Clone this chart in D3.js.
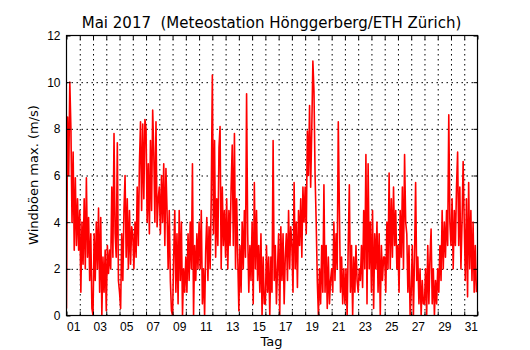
<!DOCTYPE html>
<html>
<head>
<meta charset="utf-8">
<script src="https://cdn.jsdelivr.net/npm/d3@7"></script>
<style>
  body { margin: 0; background: #fff; }
  svg { font-family: "DejaVu Sans", sans-serif; }
  .grid line { stroke: #000; stroke-dasharray: 1.5,3.5; stroke-width: 1; }
  .grid path { display: none; }
  .ticks path { display: none; }
  .ticks line { stroke: #000; }
  .ticks text { font-size: 12px; fill: #000; }
</style>
</head>
<body>
<div id="chart"></div>
<script>
// DATA: max gusts (m/s), 12 samples per day at 00,02,...,22 h
const sampleHours = [0, 2, 4, 6, 8, 10, 12, 14, 16, 18, 20, 22];
const gusts = [
  [0.3, 8.5, 6.0, 10.0, 8.0, 4.0, 7.0, 2.8, 5.9, 3.0, 5.0, 2.8],   // 01
  [4.5, 1.0, 4.0, 2.2, 5.0, 2.0, 5.9, 2.5, 4.2, 1.5, 3.5, 0.3],    // 02
  [0.0, 3.5, 1.5, 4.0, 2.0, 4.6, 1.0, 4.2, 0.0, 2.5, 1.0, 2.8],    // 03
  [0.2, 3.0, 1.8, 2.8, 2.0, 5.5, 2.5, 7.8, 3.5, 2.5, 7.4, 1.5],    // 04
  [1.0, 0.3, 3.5, 1.5, 4.5, 6.0, 2.5, 5.0, 2.0, 4.5, 2.2, 3.8],    // 05
  [3.5, 2.0, 4.0, 2.5, 5.5, 3.0, 6.5, 8.3, 4.5, 8.2, 5.0, 8.4],    // 06
  [8.0, 4.0, 6.5, 3.5, 7.5, 4.5, 8.8, 7.0, 4.0, 8.3, 3.8, 5.0],    // 07
  [5.5, 3.5, 6.0, 4.0, 6.5, 3.0, 6.3, 4.5, 2.0, 4.5, 1.5, 0.2],    // 08
  [0.0, 2.5, 4.5, 1.0, 3.5, 0.5, 4.5, 1.5, 4.0, 0.0, 2.0, 1.0],    // 09
  [2.5, 1.0, 3.5, 1.5, 4.0, 2.0, 6.5, 0.0, 3.0, 1.5, 3.5, 2.0],    // 10
  [4.0, 2.0, 4.5, 0.5, 2.0, 0.0, 2.8, 4.2, 1.5, 3.8, 2.0, 5.0],    // 11
  [10.3, 3.5, 7.5, 2.5, 5.0, 3.0, 7.2, 8.1, 2.0, 5.5, 3.0, 4.5],   // 12
  [2.5, 5.0, 2.0, 4.5, 3.0, 5.5, 7.3, 3.0, 7.8, 2.0, 5.0, 2.5],    // 13
  [0.2, 3.0, 1.0, 4.0, 2.0, 4.5, 2.5, 9.5, 3.5, 1.0, 3.0, 1.5],    // 14
  [4.0, 0.5, 5.7, 2.0, 4.5, 1.5, 3.0, 1.0, 3.5, 0.0, 2.5, 0.5],    // 15
  [0.5, 3.0, 1.0, 2.5, 0.0, 2.5, 1.0, 7.5, 1.5, 3.0, 0.5, 2.0],    // 16
  [3.5, 0.0, 3.8, 1.5, 3.5, 0.5, 2.5, 3.5, 1.5, 4.5, 2.0, 3.8],    // 17
  [3.0, 1.0, 5.7, 2.0, 4.0, 1.2, 4.5, 3.0, 5.0, 2.5, 5.5, 4.0],    // 18
  [5.5, 3.5, 7.9, 6.0, 9.0, 5.5, 8.0, 10.9, 9.6, 6.0, 4.0, 1.5],   // 19
  [0.0, 2.0, 0.5, 3.0, 1.0, 5.6, 1.0, 3.0, 0.3, 2.5, 0.5, 1.5],    // 20
  [2.0, 1.0, 4.0, 1.5, 3.5, 2.0, 8.3, 4.5, 1.0, 2.5, 0.5, 2.0],    // 21
  [0.5, 2.0, 0.0, 3.0, 5.6, 1.0, 3.0, 0.0, 2.5, 1.0, 3.0, 1.5],    // 22
  [1.0, 2.0, 1.5, 3.0, 1.2, 4.5, 2.0, 6.9, 0.5, 6.5, 2.0, 4.0],    // 23
  [1.0, 4.5, 0.3, 3.5, 2.0, 4.0, 1.0, 3.5, 0.0, 3.0, 1.5, 2.5],    // 24
  [2.5, 1.0, 4.0, 2.0, 6.1, 2.0, 5.0, 2.5, 5.5, 3.0, 4.5, 2.0],    // 25
  [3.0, 1.0, 4.5, 2.5, 5.5, 2.0, 6.9, 4.0, 3.5, 1.0, 3.0, 0.0],    // 26
  [1.0, 3.0, 0.0, 2.5, 5.7, 1.5, 2.5, 0.5, 2.0, 0.0, 1.5, 0.5],    // 27
  [0.5, 2.0, 0.0, 3.0, 0.5, 2.5, 3.7, 0.5, 2.0, 0.0, 1.5, 0.5],    // 28
  [2.0, 1.0, 3.0, 1.5, 4.5, 2.0, 4.0, 2.5, 4.5, 3.0, 8.6, 4.0],    // 29
  [3.0, 5.0, 2.0, 4.5, 3.0, 5.5, 7.0, 3.0, 5.5, 2.0, 4.0, 6.6],    // 30
  [4.0, 1.5, 5.0, 0.8, 5.7, 2.0, 4.5, 1.5, 4.0, 1.0, 3.0, 1.0]     // 31
];
const dayLabels = ['01', '03', '05', '07', '09', '11', '13', '15', '17', '19', '21', '23', '25', '27', '29', '31'];
const yTickValues = [0, 2, 4, 6, 8, 10, 12];

// DIMENSIONS
const width = 530;
const height = 350;
const margin = {top: 35, right: 53, bottom: 35, left: 66};
const w = width - margin.left - margin.right;
const h = height - margin.top - margin.bottom;

const svg = d3.select('#chart').append('svg')
  .attr('width', width)
  .attr('height', height);

const viz = svg.append('g')
  .attr('transform', `translate(${margin.left + 0.5}, ${margin.top + 0.5})`);

// SCALES (x in days since 1 May 00:00)
const x = d3.scaleLinear().domain([0, 31]).range([0, w]);
const y = d3.scaleLinear().domain([0, 12]).range([h, 0]);

// GRID
viz.append('g')
  .attr('class', 'grid')
  .attr('transform', `translate(0, ${h})`)
  .call(d3.axisBottom(x).tickValues(d3.range(1, 31)).tickSize(-h).tickFormat(''));

viz.append('g')
  .attr('class', 'grid')
  .call(d3.axisLeft(y).tickValues([2, 4, 6, 8, 10]).tickSize(-w).tickFormat(''));

// LINE
const points = [];
gusts.forEach(function(day, i) {
  day.forEach(function(v, j) {
    points.push({t: i + sampleHours[j] / 24, v: v});
  });
});

viz.append('clipPath')
  .attr('id', 'plotClip')
  .append('rect')
  .attr('width', w)
  .attr('height', h);

viz.append('path')
  .datum(points)
  .attr('clip-path', 'url(#plotClip)')
  .attr('fill', 'none')
  .attr('stroke', '#ff0000')
  .attr('stroke-width', 1.6)
  .attr('stroke-linejoin', 'round')
  .attr('d', d3.line()
    .x(function(d) { return x(d.t); })
    .y(function(d) { return y(d.v); }));

// AXES
const dayTicks = d3.range(0, 32);

viz.append('g')
  .attr('class', 'ticks')
  .attr('transform', `translate(0, ${h})`)
  .call(d3.axisBottom(x).tickValues(dayTicks).tickSize(-4).tickFormat(''));

viz.append('g')
  .attr('class', 'ticks')
  .call(d3.axisTop(x).tickValues(dayTicks).tickSize(-4).tickFormat(''));

viz.append('g')
  .attr('class', 'ticks')
  .attr('transform', `translate(0, ${h})`)
  .call(d3.axisBottom(x)
    .tickValues(dayLabels.map(function(d) { return +d - 0.5; }))
    .tickSize(0)
    .tickPadding(7)
    .tickFormat(function(d, i) { return dayLabels[i]; }));

viz.append('g')
  .attr('class', 'ticks')
  .call(d3.axisLeft(y).tickValues(yTickValues).tickSize(-4).tickPadding(6));

viz.append('g')
  .attr('class', 'ticks')
  .attr('transform', `translate(${w}, 0)`)
  .call(d3.axisRight(y).tickValues(yTickValues).tickSize(-4).tickFormat(''));

// FRAME
viz.append('rect')
  .attr('width', w)
  .attr('height', h)
  .attr('fill', 'none')
  .attr('stroke', '#000')
  .attr('stroke-width', 1.2);

// TEXTS
svg.append('text')
  .attr('x', margin.left + w / 2)
  .attr('y', 28)
  .attr('text-anchor', 'middle')
  .style('font-size', '15px')
  .style('white-space', 'pre')
  .text('Mai 2017  (Meteostation Hönggerberg/ETH Zürich)');

svg.append('text')
  .attr('x', margin.left + w / 2)
  .attr('y', 346)
  .attr('text-anchor', 'middle')
  .style('font-size', '13px')
  .text('Tag');

svg.append('text')
  .attr('transform', `translate(38, ${margin.top + h / 2}) rotate(-90)`)
  .attr('text-anchor', 'middle')
  .style('font-size', '13px')
  .text('Windböen max. (m/s)');
</script>
</body>
</html>
